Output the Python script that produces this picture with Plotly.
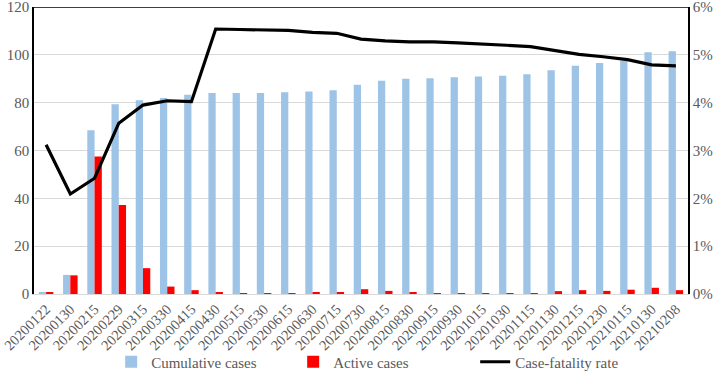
import plotly.graph_objects as go

dates = ["20200122", "20200130", "20200215", "20200229", "20200315", "20200330",
         "20200415", "20200430", "20200515", "20200530", "20200615", "20200630",
         "20200715", "20200730", "20200815", "20200830", "20200915", "20200930",
         "20201015", "20201030", "20201115", "20201130", "20201215", "20201230",
         "20210115", "20210130", "20210208"]

cumulative = [0.5, 8.0, 68.5, 79.3, 81.0, 82.0, 83.3, 84.0, 84.0, 84.0, 84.4, 84.7,
              85.2, 87.5, 89.2, 90.0, 90.2, 90.6, 90.9, 91.3, 91.9, 93.6, 95.4, 96.6,
              97.5, 101.1, 101.5]

active = [0.5, 7.8, 57.5, 37.2, 10.8, 3.1, 1.6, 0.6, 0.1, 0.1, 0.1, 0.5,
          0.5, 2.0, 1.3, 0.5, 0.3, 0.3, 0.3, 0.4, 0.4, 1.2, 1.6, 1.3,
          1.8, 2.6, 1.6]

cfr = [3.12, 2.09, 2.42, 3.57, 3.95, 4.04, 4.02, 5.54, 5.53, 5.52, 5.51, 5.47,
       5.45, 5.33, 5.29, 5.27, 5.27, 5.25, 5.23, 5.20, 5.17, 5.09, 5.01, 4.96,
       4.90, 4.79, 4.77]
cfr_frac = [v / 100 for v in cfr]

left_ticks = [0, 20, 40, 60, 80, 100, 120]
right_ticks = [0, 0.01, 0.02, 0.03, 0.04, 0.05, 0.06]

FONT = "Liberation Serif"
GRAY = "#595959"

fig = go.Figure()
fig.add_trace(go.Bar(x=dates, y=cumulative, name="Cumulative cases",
                     marker=dict(color="#9DC3E6", line=dict(width=0))))
fig.add_trace(go.Bar(x=dates, y=active, name="Active cases",
                     marker=dict(color="#FF0000", line=dict(width=0))))
fig.add_trace(go.Scatter(x=dates, y=cfr_frac, name="Case-fatality rate", yaxis="y2",
                         mode="lines", line=dict(color="black", width=3.2)))

W, H = 722, 384
T = 7
Y0 = 90 / (H - T)  # bottom of plotting region within the paper area

fig.update_layout(
    width=W, height=H,
    margin=dict(l=34, r=34, t=T, b=0),
    paper_bgcolor="white", plot_bgcolor="white",
    barmode="group", bargap=0.4, bargroupgap=0,
    font=dict(family=FONT, color=GRAY, size=15),
    showlegend=True,
    legend=dict(orientation="h", x=0.118, xanchor="left", y=22 / (H - T), yanchor="middle",
                font=dict(family=FONT, size=15, color=GRAY), traceorder="normal",
                itemwidth=30, entrywidth=137, entrywidthmode="pixels",
                bgcolor="rgba(0,0,0,0)"),
    xaxis=dict(type="category", tickangle=-45, showgrid=False, automargin=False,
               showline=True, linecolor="#d9d9d9", linewidth=1, anchor="y",
               ticks="", ticklabeloverflow="allow",
               tickfont=dict(family=FONT, size=14.5, color=GRAY)),
    yaxis=dict(range=[0, 120], tickvals=left_ticks, showgrid=True, gridcolor="#d9d9d9",
               gridwidth=1, showline=True, linecolor="black", linewidth=1.5,
               automargin=False, domain=[Y0, 1], ticklabeloverflow="allow",
               zeroline=False, ticks="", tickfont=dict(family=FONT, size=15, color=GRAY)),
    yaxis2=dict(range=[0, 0.06], tickvals=right_ticks, tickformat=".0%", overlaying="y",
                side="right", showgrid=False, showline=True, linecolor="black",
                linewidth=1.5, zeroline=False, ticks="", automargin=False,
                ticklabeloverflow="allow",
                tickfont=dict(family=FONT, size=15, color=GRAY)),
    shapes=[dict(type="line", xref="paper", yref="y", x0=0, x1=1, y0=120, y1=120,
                 line=dict(color="black", width=1.5))],
)

# remove the browser's default 8px page margin so the figure fills the window
fig.write_html("out.html", config={"displayModeBar": False},
               post_script="document.body.style.margin='0';")
